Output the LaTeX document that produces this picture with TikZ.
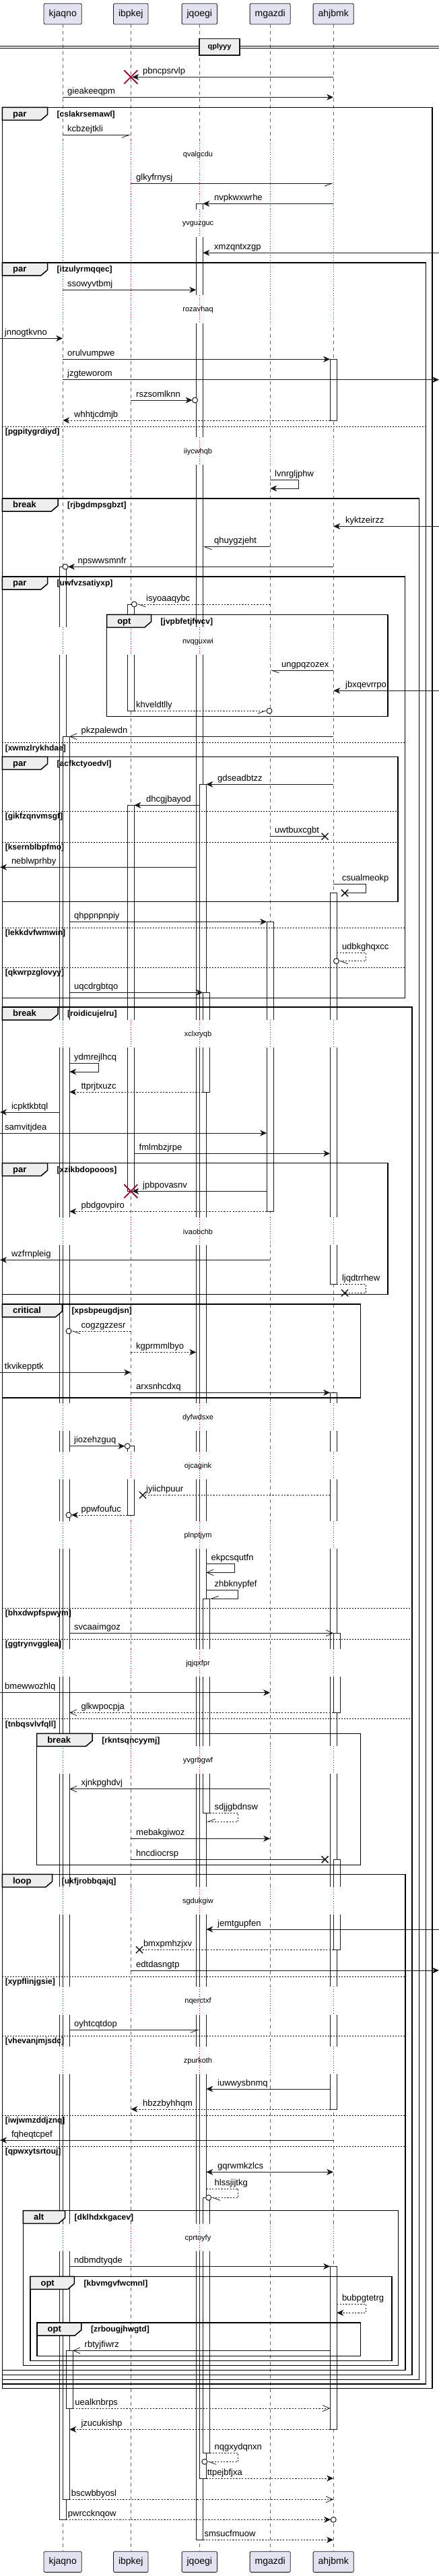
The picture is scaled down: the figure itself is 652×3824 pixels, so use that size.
\documentclass[tikz,border=0pt]{standalone}
\usepackage{fontspec}
\setmainfont{Liberation Sans}
\usetikzlibrary{arrows.meta}
\definecolor{partfill}{HTML}{E2E2F0}
\definecolor{edge}{HTML}{181818}
\definecolor{tabfill}{HTML}{EEEEEE}
\definecolor{waitred}{HTML}{A80036}
\tikzset{
  party/.style={draw=edge, fill=partfill, line width=0.8pt, rounded corners=2pt, minimum height=30.7pt, inner xsep=7.5pt, font=\fontsize{14}{16}\selectfont},
  lane/.style={draw=black!60, line width=0.6pt, dash pattern=on 5pt off 5pt},
  waitline/.style={draw=waitred, line width=0.8pt, dash pattern=on 1pt off 2.5pt},
  waittxt/.style={inner sep=0pt, font=\fontsize{11}{13}\selectfont},
  actbox/.style={draw=edge, fill=white, line width=0.8pt},
  msg/.style={draw=edge, line width=0.8pt},
  ret/.style={msg, dash pattern=on 2.2pt off 2.2pt},
  arrF/.style={-{Stealth[length=10pt,width=9pt,inset=3pt]}},
  arrF2/.style={{Stealth[length=10pt,width=9pt,inset=3pt]}-{Stealth[length=10pt,width=9pt,inset=3pt]}},
  arrO/.style={-{Straight Barb[length=10pt,width=9pt]}},
  arrHr/.style={-{Straight Barb[length=11pt,width=8pt,right]}},
  arrHl/.style={-{Straight Barb[length=11pt,width=8pt,left]}},
  arrHu/.style={-{Straight Barb[length=11pt,width=8pt,right]}},
  lbl/.style={anchor=base west, inner sep=0pt, font=\fontsize{13}{15}\selectfont},
  dot/.style={draw=edge, fill=white, line width=1pt},
  killx/.style={draw=waitred, line width=1.8pt},
  lostx/.style={draw=edge, line width=1.5pt},
  grpline/.style={draw=black, line width=1.5pt},
  grptab/.style={draw=black, fill=tabfill, line width=1.5pt},
  grpkind/.style={anchor=base west, inner sep=0pt, font=\bfseries\fontsize{13}{15}\selectfont},
  grpcond/.style={anchor=base west, inner sep=0pt, font=\bfseries\fontsize{12}{14}\selectfont},
  sepline/.style={draw=black, line width=0.8pt, dash pattern=on 2pt off 2pt},
  divbox/.style={draw=edge, fill=tabfill, line width=1.3pt, minimum width=60pt, minimum height=24.7pt, inner sep=0pt, font=\bfseries\fontsize{11}{13}\selectfont}
}
\newcommand{\grp}[7]{%
  \draw[grpline] (#1,#2) rectangle (#3,#4);
  \filldraw[grptab] (#1,#2) -- ++(#6,0) -- ++(0,10.7) -- ++(-9.7,8.3) -- (#1,#2+19) -- cycle;
  \node[grpkind] (k#7) at (#1+15.5,#2+13.8) {#5};
  \node[grpcond] (c#7) at (#1+#6+14,#2+13.8) {[#7]};
}
\newcommand{\sep}[4]{%
  \draw[sepline] (#1,#3) -- (#2,#3);
  \node[grpcond] (s#4) at (#1+4.2,#3+11.5) {[#4]};
}
\newcommand{\waitband}[2]{%
  \foreach \lx in {93.2,194.3,296.3,401.2,495.2}{
    \fill[white] (\lx-10,#1-21.6) rectangle (\lx+16,#1+19.7);
    \draw[waitline] (\lx,#1-21.6) -- (\lx,#1+19.7);
  }
  \node[waittxt] (w#2) at (294,#1) {#2};
}

\begin{document}
\begin{tikzpicture}[x=1pt, y=-1pt]
\useasboundingbox (0,0) rectangle (652,3824);
\fill[white] (0,0) rectangle (652,3824);

\node[party] (kjaqno) at (93.2,20.65) {kjaqno};
\node[party] (ibpkej) at (194.3,20.65) {ibpkej};
\node[party] (jqoegi) at (296.3,20.65) {jqoegi};
\node[party] (mgazdi) at (401.2,20.65) {mgazdi};
\node[party] (ahjbmk) at (495.2,20.65) {ahjbmk};
\node[party] (kjaqno-b) at (93.2,3803) {kjaqno};
\node[party] (ibpkej-b) at (194.3,3803) {ibpkej};
\node[party] (jqoegi-b) at (296.3,3803) {jqoegi};
\node[party] (mgazdi-b) at (401.2,3803) {mgazdi};
\node[party] (ahjbmk-b) at (495.2,3803) {ahjbmk};
\foreach \p in {kjaqno,ibpkej,jqoegi,mgazdi,ahjbmk}
  \draw[lane] (\p.south) -- (\p-b.north);

\foreach \lx in {93.2,194.3,401.2,495.2}{
  \draw[white, line width=3pt] (\lx,207) -- (\lx,480);
  \draw[waitline] (\lx,207) -- (\lx,480);
}
\draw[white, line width=3pt] (296.3,207) -- (296.3,302.3);
\draw[waitline] (296.3,207) -- (296.3,302.3);

\draw[actbox] (88.2,841.3) rectangle (98.2,3740.3);
\draw[actbox] (93.2,1093.3) rectangle (103.2,3710.3);
\draw[actbox] (98.2,3489.3) rectangle (108.2,3575);
\draw[actbox] (189.3,897) rectangle (199.3,1055.3);
\draw[actbox] (189.3,1195.3) rectangle (199.3,1768.3);
\draw[actbox] (189.3,2146.7) rectangle (199.3,2249);
\draw[actbox] (291.3,302.3) rectangle (301.3,3770.3);
\draw[actbox] (296.3,1164.3) rectangle (306.3,3679);
\draw[actbox] (301.3,1473.3) rectangle (311.3,1621);
\draw[actbox] (301.3,2373.3) rectangle (311.3,2691.7);
\draw[actbox] (301.3,3262.3) rectangle (311.3,3641.7);
\draw[actbox] (396.2,1368.3) rectangle (406.2,1798.3);
\draw[actbox] (490.2,533.3) rectangle (500.2,624);
\draw[actbox] (490.2,1325.7) rectangle (500.2,1906.7);
\draw[actbox] (490.2,2067.3) rectangle (500.2,3131);
\draw[actbox] (495.2,2424.3) rectangle (505.2,2542.3);
\draw[actbox] (495.2,2760.3) rectangle (505.2,2894.3);
\draw[actbox] (490.2,3364.3) rectangle (500.2,3606.3);

\waitband{230}{qvalgcdu}
\waitband{332.3}{yvguzguc}
\waitband{460}{rozavhaq}
\waitband{670.7}{iiycwhqb}
\waitband{952.3}{nvqguxwi}
\waitband{1535.7}{xclxryqb}
\waitband{1828.3}{ivaobchb}
\waitband{2104.3}{dyfwdsxe}
\waitband{2176.3}{ojcagink}
\waitband{2279.3}{plnptjym}
\waitband{2469.7}{jqjqxfpr}
\waitband{2613.3}{yvgrbgwf}
\waitband{2822.3}{sgdukgiw}
\waitband{2971}{nqerctxf}
\waitband{3059.3}{zpurkoth}
\waitband{3322.7}{cprtoyfy}

\draw[line width=0.8pt] (0,68.3) -- (652,68.3) (0,71) -- (652,71);
\node[divbox] (qplyyy) at (326,69.7) {qplyyy};

\grp{3.4}{159.3}{642}{3545.7}{par}{67.1}{cslakrsemawl}
\grp{3.4}{390}{632.4}{3539}{par}{67.1}{itzulyrmqqec}
\sep{3.4}{632.4}{633.3}{pgpitygrdiyd}
\grp{3.4}{740}{622.3}{3532.3}{break}{82.6}{rjbgdmpsgbzt}
\grp{3.4}{856}{601.3}{1481.7}{par}{67.1}{uwfvzsatiyxp}
\grp{158.6}{912.3}{575.8}{1063.3}{opt}{65.9}{jvpbfetjfwcv}
\sep{3.4}{601.3}{1102.7}{xwmzlrykhdae}
\grp{3.4}{1123.3}{590.8}{1338.3}{par}{67.1}{acfkctyoedvl}
\sep{3.4}{590.8}{1204.3}{gikfzqnvmsgf}
\sep{3.4}{590.8}{1250}{ksernblbpfmo}
\sep{3.4}{601.3}{1377.3}{lekkdvfwmwin}
\sep{3.4}{601.3}{1436}{qkwrpzglovyy}
\grp{3.4}{1495}{611.8}{3525.3}{break}{82.6}{roidicujelru}
\grp{3.4}{1726.7}{575.8}{1921.7}{par}{67.1}{xzikbdopooos}
\grp{3.4}{1936}{535.5}{2075}{critical}{88.9}{xpsbpeugdjsn}
\sep{3.4}{611.8}{2387}{bhxdwpfspwym}
\sep{3.4}{611.8}{2433.3}{ggtrynvgglea}
\sep{3.4}{611.8}{2551.7}{tnbqsvlvfqll}
\grp{54.6}{2573.3}{535.5}{2768.3}{break}{82.6}{rkntsqncyymj}
\grp{3.4}{2782.3}{602.2}{3518.3}{loop}{74.2}{ukfjrobbqajq}
\sep{3.4}{602.2}{2934}{xypflinjgsie}
\sep{3.4}{602.2}{3022.3}{vhevanjmjsdc}
\sep{3.4}{602.2}{3140.3}{iwjwmzddjznq}
\sep{3.4}{602.2}{3186}{qpwxytsrtouj}
\grp{34.4}{3281.7}{591.7}{3511.7}{alt}{62.1}{dklhdxkgacev}
\grp{44.9}{3379.3}{582}{3504.3}{opt}{65.5}{kbvmgvfwcmnl}
\grp{55}{3448}{535.5}{3497.3}{opt}{65.9}{zrbougjhwgtd}

\draw[msg,arrF] (495.2,114.3) -- (196.3,114.3);
\draw[killx] (184.3,104.3) -- (204.3,124.3) (184.3,124.3) -- (204.3,104.3);
\node[lbl] (pbncpsrvlp) at (212,109.3) {pbncpsrvlp};
\draw[msg,arrF] (93.2,144.3) -- (495.2,144.3);
\node[lbl] (gieakeeqpm) at (100,139.3) {gieakeeqpm};
\draw[msg,arrHr] (93.2,200.3) -- (194.3,200.3);
\node[lbl] (kcbzejtkli) at (100,195.3) {kcbzejtkli};
\draw[msg,arrHr] (194.3,272.3) -- (495.2,272.3);
\node[lbl] (glkyfrnysj) at (202,267.3) {glkyfrnysj};
\draw[msg,arrF] (495.2,302.3) -- (301.3,302.3);
\node[lbl] (nvpkwxwrhe) at (318,297.3) {nvpkwxwrhe};
\draw[msg,arrF] (652,375.3) -- (301.3,375.3);
\node[lbl] (xmzqntxzgp) at (318,370.3) {xmzqntxzgp};
\draw[msg,arrF] (93.2,430.3) -- (291.3,430.3);
\node[lbl] (ssowyvtbmj) at (100,425.3) {ssowyvtbmj};
\draw[msg,arrF] (0,502.3) -- (93.2,502.3);
\node[lbl] (jnnogtkvno) at (6.7,497.3) {jnnogtkvno};
\draw[msg,arrF] (93.2,533.3) -- (490.2,533.3);
\node[lbl] (orulvumpwe) at (100,528.3) {orulvumpwe};
\draw[msg,arrF] (93.2,563.7) -- (652,563.7);
\node[lbl] (jzgteworom) at (100,558.7) {jzgteworom};
\draw[msg,arrF] (194.3,594) -- (285.6,594);
\draw[dot] (289.6,594) circle (4pt);
\node[lbl] (rszsomlknn) at (202,589) {rszsomlknn};
\draw[ret,arrF] (490.2,624) -- (93.2,624);
\node[lbl] (whhtjcdmjb) at (110,619) {whhtjcdmjb};
\draw[msg,arrF] (401.2,712.3) -- (443.6,712.3) -- (443.6,725) -- (401.2,725);
\node[lbl] (lvnrgljphw) at (408,707.3) {lvnrgljphw};
\draw[msg,arrF] (652,781.3) -- (495.2,781.3);
\node[lbl] (kyktzeirzz) at (513,776.3) {kyktzeirzz};
\draw[msg,arrHl] (401.2,811.7) -- (301.3,811.7);
\node[lbl] (qhuygzjeht) at (318,806.7) {qhuygzjeht};
\draw[msg,arrF] (495.2,841.3) -- (101,841.3);
\draw[dot] (97,841.3) circle (4pt);
\node[lbl] (npswwsmnfr) at (115.4,836.3) {npswwsmnfr};
\draw[ret,arrHl] (401.2,897) -- (203.3,897);
\draw[dot] (199.3,897) circle (4pt);
\node[lbl] (isyoaaqybc) at (217,892) {isyoaaqybc};
\draw[msg,arrHl] (495.2,995) -- (401.2,995);
\node[lbl] (ungpqzozex) at (418,990) {ungpqzozex};
\draw[msg,arrF] (652,1025.3) -- (495.2,1025.3);
\node[lbl] (jbxqevrrpo) at (513,1020.3) {jbxqevrrpo};
\draw[ret,arrHr] (199.3,1055.3) -- (396,1055.3);
\draw[dot] (400,1055.3) circle (4pt);
\node[lbl] (khveldtlly) at (202,1050.3) {khveldtlly};
\draw[msg,arrO] (495.2,1093.3) -- (103.2,1093.3);
\node[lbl] (pkzpalewdn) at (120.4,1088.3) {pkzpalewdn};
\draw[msg,arrF] (495.2,1164.3) -- (306.3,1164.3);
\node[lbl] (gdseadbtzz) at (323,1159.3) {gdseadbtzz};
\draw[msg,arrF] (296.3,1195.3) -- (199.3,1195.3);
\node[lbl] (dhcgjbayod) at (217,1190.3) {dhcgjbayod};
\draw[msg] (401.2,1241.7) -- (482.6,1241.7);
\draw[lostx] (477.6,1236.7) -- (487.6,1246.7) (477.6,1246.7) -- (487.6,1236.7);
\node[lbl] (uwtbuxcgbt) at (408,1236.7) {uwtbuxcgbt};
\draw[msg,arrF] (291.3,1287.3) -- (0,1287.3);
\node[lbl] (neblwprhby) at (16.8,1282.3) {neblwprhby};
\draw[msg] (495.2,1312.3) -- (543.4,1312.3) -- (543.4,1325.7) -- (512,1325.7);
\draw[lostx] (507,1320.7) -- (517,1330.7) (507,1330.7) -- (517,1320.7);
\node[lbl] (csualmeokp) at (507.8,1307.3) {csualmeokp};
\draw[msg,arrF] (103.2,1368.3) -- (396.2,1368.3);
\node[lbl] (qhppnpnpiy) at (110,1363.3) {qhppnpnpiy};
\draw[ret,arrHl] (500.2,1414.3) -- (543.4,1414.3) -- (543.4,1426.7) -- (503.4,1426.7);
\draw[dot] (499.4,1426.7) circle (4pt);
\node[lbl] (udbkghqxcc) at (507.8,1409.3) {udbkghqxcc};
\draw[msg,arrF] (103.2,1473.3) -- (301.3,1473.3);
\node[lbl] (uqcdrgbtqo) at (110,1468.3) {uqcdrgbtqo};
\draw[msg,arrF] (103.2,1578.3) -- (146,1578.3) -- (146,1591) -- (103.2,1591);
\node[lbl] (ydmrejlhcq) at (110,1573.3) {ydmrejlhcq};
\draw[ret,arrF] (301.3,1621) -- (103.2,1621);
\node[lbl] (ttprjtxuzc) at (120.4,1616) {ttprjtxuzc};
\draw[msg,arrF] (88.2,1651) -- (0,1651);
\node[lbl] (icpktkbtql) at (16.8,1646) {icpktkbtql};
\draw[msg,arrF] (0,1682) -- (396.2,1682);
\node[lbl] (samvitjdea) at (7,1677) {samvitjdea};
\draw[msg,arrF] (199.3,1712.3) -- (490.2,1712.3);
\node[lbl] (fmlmbzjrpe) at (206.5,1707.3) {fmlmbzjrpe};
\draw[msg,arrF] (396.2,1768.3) -- (196.3,1768.3);
\draw[killx] (184.3,1758.3) -- (204.3,1778.3) (184.3,1778.3) -- (204.3,1758.3);
\node[lbl] (jpbpovasnv) at (212,1763.3) {jpbpovasnv};
\draw[ret,arrF] (396.2,1798.3) -- (103.2,1798.3);
\node[lbl] (pbdgovpiro) at (120.4,1793.3) {pbdgovpiro};
\draw[msg,arrF] (401.2,1870.3) -- (0,1870.3);
\node[lbl] (wzfrnpleig) at (16.8,1865.3) {wzfrnpleig};
\draw[ret] (500.2,1906.7) -- (543.4,1906.7) -- (543.4,1919.3) -- (512,1919.3);
\draw[lostx] (507,1914.3) -- (517,1924.3) (507,1924.3) -- (517,1914.3);
\node[lbl] (ljqdtrrhew) at (507.8,1901.7) {ljqdtrrhew};
\draw[ret,arrHl] (194.3,1976) -- (106,1976);
\draw[dot] (102,1976) circle (4pt);
\node[lbl] (cogzgzzesr) at (120.4,1971) {cogzgzzesr};
\draw[ret,arrF] (194.3,2007.3) -- (291.3,2007.3);
\node[lbl] (kgprmmlbyo) at (202,2002.3) {kgprmmlbyo};
\draw[msg,arrF] (0,2037.3) -- (194.3,2037.3);
\node[lbl] (tkvikepptk) at (6.7,2032.3) {tkvikepptk};
\draw[msg,arrF] (194.3,2067.3) -- (490.2,2067.3);
\node[lbl] (arxsnhcdxq) at (202,2062.3) {arxsnhcdxq};
\draw[msg,arrF] (103.2,2146.7) -- (185.3,2146.7);
\draw[dot] (189.3,2146.7) circle (4pt);
\node[lbl] (jiozehzguq) at (110,2141.7) {jiozehzguq};
\draw[ret] (490.2,2219.3) -- (212,2219.3);
\draw[lostx] (207,2214.3) -- (217,2224.3) (207,2224.3) -- (217,2214.3);
\node[lbl] (jyiichpuur) at (217,2214.3) {jyiichpuur};
\draw[ret,arrF] (189.3,2249) -- (106,2249);
\draw[dot] (102,2249) circle (4pt);
\node[lbl] (ppwfoufuc) at (120.4,2244) {ppwfoufuc};
\draw[msg,arrO] (306.3,2321.3) -- (348.7,2321.3) -- (348.7,2334.3) -- (306.3,2334.3);
\node[lbl] (ekpcsqutfn) at (313.5,2316.3) {ekpcsqutfn};
\draw[msg,arrHu] (306.3,2360.3) -- (353.8,2360.3) -- (353.8,2373.3) -- (311.3,2373.3);
\node[lbl] (zhbknypfef) at (318.5,2355.3) {zhbknypfef};
\draw[msg,arrO] (103.2,2424.3) -- (495.2,2424.3);
\node[lbl] (svcaaimgoz) at (110,2419.3) {svcaaimgoz};
\draw[msg,arrF] (0,2512.7) -- (401.2,2512.7);
\node[lbl] (bmewwozhlq) at (7,2507.7) {bmewwozhlq};
\draw[ret,arrO] (495.2,2542.3) -- (103.2,2542.3);
\node[lbl] (glkwpocpja) at (120.4,2537.3) {glkwpocpja};
\draw[msg,arrO] (401.2,2655.7) -- (103.2,2655.7);
\node[lbl] (xjnkpghdvj) at (120.4,2650.7) {xjnkpghdvj};
\draw[ret,arrHu] (311.3,2691.7) -- (353.8,2691.7) -- (353.8,2704.3) -- (306.3,2704.3);
\node[lbl] (sdjjgbdnsw) at (318.5,2686.7) {sdjjgbdnsw};
\draw[msg,arrF] (194.3,2729.3) -- (401.2,2729.3);
\node[lbl] (mebakgiwoz) at (202,2724.3) {mebakgiwoz};
\draw[msg] (194.3,2760.3) -- (482.6,2760.3);
\draw[lostx] (477.6,2755.3) -- (487.6,2765.3) (477.6,2765.3) -- (487.6,2755.3);
\node[lbl] (hncdiocrsp) at (202,2755.3) {hncdiocrsp};
\draw[msg,arrF] (652,2864) -- (306.3,2864);
\node[lbl] (jemtgupfen) at (323,2859) {jemtgupfen};
\draw[ret] (495.2,2894.3) -- (207,2894.3);
\draw[lostx] (202,2889.3) -- (212,2899.3) (202,2899.3) -- (212,2889.3);
\node[lbl] (bmxpmhzjxv) at (212.8,2889.3) {bmxpmhzjxv};
\draw[msg,arrF] (194.3,2925) -- (652,2925);
\node[lbl] (edtdasngtp) at (202,2920) {edtdasngtp};
\draw[msg,arrHr] (103.2,3013.3) -- (296.3,3013.3);
\node[lbl] (oyhtcqtdop) at (110,3008.3) {oyhtcqtdop};
\draw[msg,arrF] (490.2,3101) -- (306.3,3101);
\node[lbl] (iuwwysbnmq) at (323,3096) {iuwwysbnmq};
\draw[ret,arrF] (490.2,3131) -- (194.3,3131);
\node[lbl] (hbzzbyhhqm) at (212,3126) {hbzzbyhhqm};
\draw[msg,arrF] (495.2,3177) -- (0,3177);
\node[lbl] (fqheqtcpef) at (16.8,3172) {fqheqtcpef};
\draw[msg,arrF2] (306.3,3224.3) -- (495.2,3224.3);
\node[lbl] (gqrwmkzlcs) at (323,3219.3) {gqrwmkzlcs};
\draw[ret,arrHl] (306.3,3249.3) -- (353.8,3249.3) -- (353.8,3262.3) -- (313.7,3262.3);
\draw[dot] (309.7,3262.3) circle (4pt);
\node[lbl] (hlssjijtkg) at (318.5,3244.3) {hlssjijtkg};
\draw[msg,arrF] (103.2,3364.3) -- (490.2,3364.3);
\node[lbl] (ndbmdtyqde) at (110,3359.3) {ndbmdtyqde};
\draw[ret,arrF] (500.2,3420.3) -- (543.4,3420.3) -- (543.4,3433.3) -- (500.2,3433.3);
\node[lbl] (bubpgtetrg) at (507.8,3415.3) {bubpgtetrg};
\draw[msg,arrO] (490.2,3489.3) -- (108.2,3489.3);
\node[lbl] (rbtyjfiwrz) at (125.5,3484.3) {rbtyjfiwrz};
\draw[ret,arrO] (108.2,3575) -- (490.2,3575);
\node[lbl] (uealknbrps) at (111.2,3570) {uealknbrps};
\draw[ret,arrF] (490.2,3606.3) -- (103.2,3606.3);
\node[lbl] (jzucukishp) at (120.4,3601.3) {jzucukishp};
\draw[ret,arrHl] (311.3,3641.7) -- (353.8,3641.7) -- (353.8,3654.3) -- (307.8,3654.3);
\draw[dot] (303.8,3654.3) circle (4pt);
\node[lbl] (nqgxydqnxn) at (318.5,3636.7) {nqgxydqnxn};
\draw[ret,arrF] (306.3,3679) -- (495.2,3679);
\node[lbl] (ttpejbfjxa) at (307.6,3674) {ttpejbfjxa};
\draw[ret,arrO] (103.2,3710.3) -- (495.2,3710.3);
\node[lbl] (bscwbbyosl) at (105.7,3705.3) {bscwbbyosl};
\draw[ret,arrF] (98.2,3740.3) -- (491.2,3740.3);
\draw[dot] (495.2,3740.3) circle (4pt);
\node[lbl] (pwrccknqow) at (100.7,3735.3) {pwrccknqow};
\draw[ret,arrF] (301.3,3770.3) -- (495.2,3770.3);
\node[lbl] (smsucfmuow) at (303.4,3765.3) {smsucfmuow};
\end{tikzpicture}
\end{document}
